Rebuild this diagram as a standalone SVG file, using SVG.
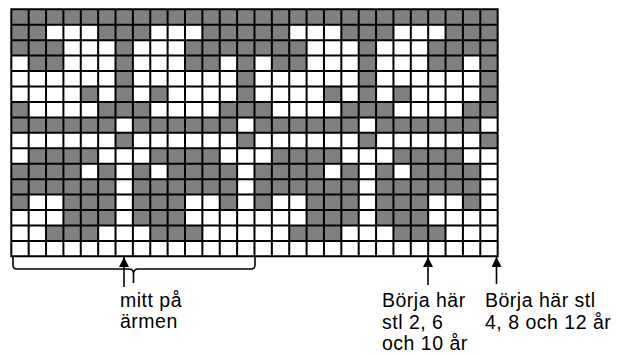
<svg xmlns="http://www.w3.org/2000/svg" xmlns:xlink="http://www.w3.org/1999/xlink" width="623" height="354" viewBox="0 0 623 354">
<style>
.fill{fill:#808080;stroke:none}
.grid{fill:none;stroke:#000;stroke-width:2}
.conn{fill:none;stroke:#000;stroke-width:1.6}
.lbl{font-family:"Liberation Sans",Arial,sans-serif;font-size:19.5px;letter-spacing:0.5px;fill:#000}
</style>
<defs>
<marker id="ah" markerUnits="userSpaceOnUse" markerWidth="10" markerHeight="10" refX="10" refY="5" orient="auto">
<path d="M0,0L10,5L0,10z" fill="#000"/>
</marker>
</defs>
<rect width="623" height="354" fill="#fff"/>
<g id="chart" transform="translate(11.3,9.3)">
<g id="tile">
<path class="fill" d="M0,0h243.18v15.44h-243.18z
M0,15.44h34.74v15.44h-34.74z M86.85,15.44h52.11v15.44h-52.11z M191.07,15.44h52.11v15.44h-52.11z
M0,30.88h52.11v15.44h-52.11z M104.22,30.88h17.37v15.44h-17.37z M173.7,30.88h69.48v15.44h-69.48z
M17.37,46.32h34.74v15.44h-34.74z M104.22,46.32h17.37v15.44h-17.37z M173.7,46.32h34.74v15.44h-34.74z M225.81,46.32h17.37v15.44h-17.37z
M104.22,61.76h17.37v15.44h-17.37z M225.81,61.76h17.37v15.44h-17.37z
M69.48,77.2h17.37v15.44h-17.37z M104.22,77.2h17.37v15.44h-17.37z M138.96,77.2h17.37v15.44h-17.37z M225.81,77.2h17.37v15.44h-17.37z
M0,92.64h17.37v15.44h-17.37z M86.85,92.64h52.11v15.44h-52.11z M208.44,92.64h34.74v15.44h-34.74z
M0,108.08h104.22v15.44h-104.22z M121.59,108.08h104.22v15.44h-104.22z
M104.22,123.52h17.37v15.44h-17.37z M225.81,123.52h17.37v15.44h-17.37z
M17.37,138.96h69.48v15.44h-69.48z M138.96,138.96h69.48v15.44h-69.48z
M0,154.4h69.48v15.44h-69.48z M86.85,154.4h17.37v15.44h-17.37z M121.59,154.4h17.37v15.44h-17.37z M156.33,154.4h69.48v15.44h-69.48z
M0,169.84h104.22v15.44h-104.22z M121.59,169.84h104.22v15.44h-104.22z
M0,185.28h17.37v15.44h-17.37z M52.11,185.28h52.11v15.44h-52.11z M121.59,185.28h52.11v15.44h-52.11z M208.44,185.28h17.37v15.44h-17.37z
M52.11,200.72h52.11v15.44h-52.11z M121.59,200.72h52.11v15.44h-52.11z
M34.74,216.16h52.11v15.44h-52.11z M138.96,216.16h52.11v15.44h-52.11z"/>
</g>
<use xlink:href="#tile" href="#tile" x="243.18" y="0"/>
<path class="grid" d="M0,0V247.04M17.37,0V247.04M34.74,0V247.04M52.11,0V247.04M69.48,0V247.04M86.85,0V247.04M104.22,0V247.04M121.59,0V247.04M138.96,0V247.04M156.33,0V247.04M173.7,0V247.04M191.07,0V247.04M208.44,0V247.04M225.81,0V247.04M243.18,0V247.04M260.55,0V247.04M277.92,0V247.04M295.29,0V247.04M312.66,0V247.04M330.03,0V247.04M347.4,0V247.04M364.77,0V247.04M382.14,0V247.04M399.51,0V247.04M416.88,0V247.04M434.25,0V247.04M451.62,0V247.04M468.99,0V247.04M486.36,0V247.04
M-1,0H487.36M0,15.44H486.36M0,30.88H486.36M0,46.32H486.36M0,61.76H486.36M0,77.2H486.36M0,92.64H486.36M0,108.08H486.36M0,123.52H486.36M0,138.96H486.36M0,154.4H486.36M0,169.84H486.36M0,185.28H486.36M0,200.72H486.36M0,216.16H486.36M0,231.6H486.36M-1,247.04H487.36"/>
</g>
<g id="connectors">
<path id="brace" class="conn" d="M13,257V265Q13,269 17,269H129Q133.5,269 133.5,274V283M133.5,274Q133.5,269 138,269H251Q255,269 255,265V257"/>
<line id="arrow-mitt" class="conn" x1="124" y1="287" x2="124" y2="257" marker-end="url(#ah)"/>
<line id="arrow-start1" class="conn" x1="428" y1="285" x2="428" y2="257" marker-end="url(#ah)"/>
<line id="arrow-start2" class="conn" x1="496.5" y1="284" x2="496.5" y2="257" marker-end="url(#ah)"/>
</g>
<g id="label-mitt">
<text class="lbl" x="120" y="306.5">mitt på</text>
<text class="lbl" x="120" y="327.5">ärmen</text>
</g>
<g id="label-start1">
<text class="lbl" x="382" y="307">Börja här</text>
<text class="lbl" x="382" y="328.5">stl 2, 6</text>
<text class="lbl" x="382" y="350">och 10 år</text>
</g>
<g id="label-start2">
<text class="lbl" x="485" y="307">Börja här stl</text>
<text class="lbl" x="485" y="328.5">4, 8 och 12 år</text>
</g>
</svg>
